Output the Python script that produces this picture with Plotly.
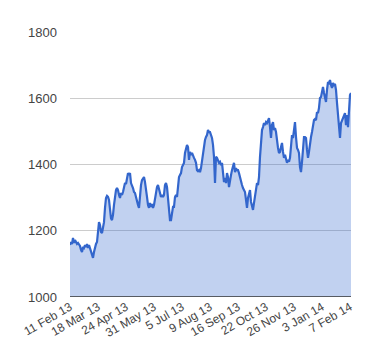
import plotly.graph_objects as go

# Daily closing values (trading days)
values = [
    1157, 1166, 1160, 1178, 1163, 1172, 1166, 1160, 1163, 1157,
    1154, 1142, 1136, 1151, 1148, 1157, 1151, 1160, 1148, 1157,
    1148, 1136, 1127, 1118, 1136, 1151, 1160, 1166, 1193, 1226,
    1217, 1196, 1193, 1208, 1226,
    1269, 1299, 1305, 1302, 1293, 1263, 1238, 1232, 1248, 1278,
    1308, 1323, 1329, 1323, 1308, 1299, 1314, 1308, 1317, 1338,
    1344, 1341, 1353, 1374, 1368, 1374, 1344, 1338, 1329, 1317,
    1314, 1302, 1287, 1278, 1269,
    1308, 1338, 1353, 1359, 1362, 1347, 1329, 1302, 1278, 1269,
    1284, 1272, 1281, 1269, 1278, 1299, 1308, 1332, 1338, 1329,
    1314, 1302, 1308, 1302, 1308, 1338, 1344, 1332, 1293, 1263,
    1232, 1232, 1257, 1272, 1272,
    1302, 1308, 1302, 1332, 1362, 1368, 1374, 1392, 1398, 1405,
    1435, 1444, 1459, 1453, 1414, 1438, 1429, 1435, 1423, 1420,
    1414, 1405, 1383, 1380, 1383, 1377, 1389, 1414, 1438, 1450,
    1474, 1483, 1489, 1504, 1498,
    1498, 1489, 1480, 1459, 1423, 1344, 1423, 1420, 1414, 1405,
    1408, 1398, 1405, 1383, 1347, 1359, 1344, 1374, 1362, 1332,
    1359, 1368, 1383, 1392, 1405, 1377, 1389, 1383, 1383, 1374,
    1359, 1347, 1338, 1329, 1323, 1317, 1293, 1269, 1299, 1314,
    1323, 1287, 1269, 1263, 1284, 1302, 1332, 1344,
    1338, 1362, 1423, 1474, 1504, 1513, 1525, 1519, 1528, 1525,
    1534, 1540, 1513, 1480, 1519, 1528, 1504, 1510, 1498, 1465,
    1450, 1435, 1438, 1453, 1465, 1438, 1420, 1429, 1414, 1405,
    1414, 1408, 1420, 1465, 1489, 1480, 1504, 1528, 1483, 1450,
    1444, 1435, 1392, 1377, 1408, 1444, 1483, 1483,
    1480, 1444, 1420, 1438, 1468, 1483, 1498, 1513, 1534, 1537,
    1534, 1558, 1555, 1571, 1601, 1604, 1619, 1634, 1616, 1601,
    1589, 1625, 1649, 1646, 1655, 1640, 1631, 1646, 1640, 1643,
    1625, 1586, 1555, 1510, 1480, 1525, 1534, 1540, 1549, 1555,
    1519, 1549, 1513, 1574, 1610, 1616,
]

tick_labels = ["11 Feb 13", "18 Mar 13", "24 Apr 13", "31 May 13", "5 Jul 13",
               "9 Aug 13", "16 Sep 13", "22 Oct 13", "26 Nov 13", "3 Jan 14", "7 Feb 14"]
y_ticks = [1000, 1200, 1400, 1600, 1800]

x = list(range(len(values)))
step = 28
tick_pos = [i * step for i in range(len(tick_labels))]

fig = go.Figure()
fig.add_trace(go.Scatter(
    x=x, y=values, mode="lines",
    line=dict(color="#3366cc", width=2.2),
    fill="tozeroy", fillcolor="rgba(51,102,204,0.3)",
    hoverinfo="skip",
))

font = dict(family="Liberation Sans, Arial, sans-serif", size=12, color="#444")

fig.update_layout(
    width=364, height=344,
    margin=dict(l=62, r=21, t=24, b=55),
    paper_bgcolor="white", plot_bgcolor="white",
    showlegend=False,
    font=font,
    xaxis=dict(
        range=[0, len(values) - 1],
        tickmode="array", tickvals=tick_pos, ticktext=tick_labels,
        tickangle=-30, showgrid=False, zeroline=False,
        showline=False, ticks="", tickfont=dict(size=12, color="#444"),
        automargin=False, fixedrange=True,
    ),
    yaxis=dict(
        range=[1000, 1800],
        tickmode="array", tickvals=y_ticks,
        showgrid=True, gridcolor="#cccccc", gridwidth=1,
        zeroline=False, showline=False, ticks="",
        tickfont=dict(size=13, color="#444"),
        ticklabelstandoff=12,
        automargin=False, fixedrange=True,
    ),
    shapes=[dict(type="line", xref="paper", yref="y", x0=0, x1=1, y0=1000, y1=1000,
                 line=dict(color="#333333", width=1.5))],
)

fig.write_html("out.html", config={"displayModeBar": False})
